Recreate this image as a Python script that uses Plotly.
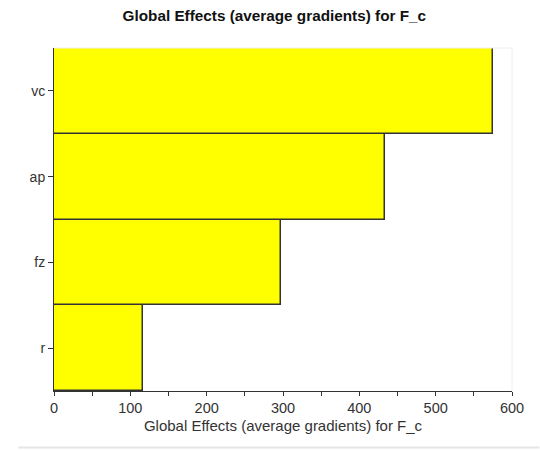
import plotly.graph_objects as go

# Average-gradient global effects of each input on F_c
factors = ["r", "fz", "ap", "vc"]
effects = [117, 297, 434, 575]

x_ticks = list(range(0, 601, 50))
x_labels = [str(v) if v % 100 == 0 else "" for v in x_ticks]

title_text = "Global Effects (average gradients) for F_c"

fig = go.Figure(
    go.Bar(
        x=effects,
        y=factors,
        orientation="h",
        marker=dict(color="#FFFF00", line=dict(color="#333333", width=1.5)),
        width=1.0,
    )
)

fig.update_layout(
    width=540,
    height=451,
    margin=dict(l=54, r=28, t=48, b=60),
    paper_bgcolor="white",
    plot_bgcolor="white",
    font=dict(family="Liberation Sans, Arial, sans-serif", size=14, color="#333333"),
    title=dict(
        text="<b>" + title_text + "</b>",
        x=0.508,
        xanchor="center",
        y=0.966,
        yanchor="middle",
        font=dict(size=15.3, color="#111111"),
    ),
    bargap=0,
    showlegend=False,
    shapes=[
        # faint frame on the open sides of the plot area
        dict(type="line", xref="paper", yref="paper", x0=0, x1=1, y0=1, y1=1,
             line=dict(color="#eeeeee", width=1)),
        dict(type="line", xref="paper", yref="paper", x0=1, x1=1, y0=0, y1=1,
             line=dict(color="#eeeeee", width=1)),
        # separator below the chart
        dict(type="line", xref="paper", yref="paper", x0=-0.078, x1=1.06,
             y0=-0.165, y1=-0.165, line=dict(color="#e6e6e6", width=2)),
    ],
)

fig.update_xaxes(
    range=[0, 600],
    tickvals=x_ticks,
    ticktext=x_labels,
    ticks="outside",
    ticklen=4,
    tickcolor="#333333",
    showline=True,
    linecolor="#333333",
    linewidth=1,
    showgrid=False,
    zeroline=False,
    title=dict(text=title_text, standoff=5, font=dict(size=15, color="#333333")),
    tickfont=dict(size=14.5, color="#333333"),
)

fig.update_yaxes(
    categoryorder="array",
    categoryarray=factors,
    range=[-0.5, 3.5],
    ticks="outside",
    ticklen=5,
    tickcolor="#333333",
    showline=True,
    linecolor="#333333",
    linewidth=1,
    showgrid=False,
    zeroline=False,
    tickfont=dict(size=14, color="#333333"),
)

fig.write_html("out.html")
